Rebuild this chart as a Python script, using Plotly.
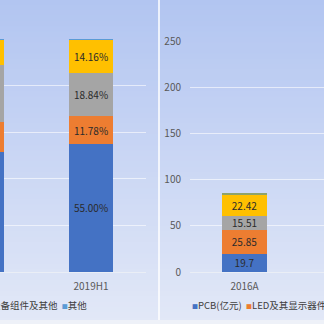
import plotly.graph_objects as go

# ---------------- data ----------------
left_categories = ["2018", "2019H1"]
left_series = ["PCB", "LED及其显示器件", "电子元器件", "设备组件及其他", "其他"]
left_pcb = [51.5, 55.00]
left_led = [12.9, 11.78]
left_elec = [24.5, 18.84]
left_equip = [10.7, 14.16]
left_other = [0.4, 0.22]

right_categories = ["2016A"]
right_series = ["PCB(亿元)", "LED及其显示器件(亿元)", "电子元器件(亿元)", "设备组件及其他(亿元)", "其他(亿元)"]
right_pcb = [19.7]
right_led = [25.85]
right_elec = [15.51]
right_equip = [22.42]
right_other = [1.5]

right_ticks = [0, 50, 100, 150, 200, 250]

left_colors = ["#4472C4", "#ED7D31", "#A5A5A5", "#FFC000", "#5B9BD5"]
right_colors = ["#4472C4", "#ED7D31", "#A5A5A5", "#FFC000", "#8EA36A"]

FONT = "Noto Sans CJK SC, Noto Sans, sans-serif"
W = H = 324

fig = go.Figure()

left_values = [left_pcb, left_led, left_elec, left_equip, left_other]
for i, (name, vals) in enumerate(zip(left_series, left_values)):
    show_text = i < 4
    fig.add_trace(go.Bar(
        x=left_categories, y=vals, name=name,
        marker=dict(color=left_colors[i], line=dict(width=0)),
        texttemplate="%{y:.2f}%" if show_text else "",
        textposition="inside", insidetextanchor="middle",
        textangle=0, constraintext="none",
        textfont=dict(family=FONT, size=10, color="#2b2b2b"),
        xaxis="x", yaxis="y", showlegend=False, hoverinfo="skip"))

right_values = [right_pcb, right_led, right_elec, right_equip, right_other]
for i, (name, vals) in enumerate(zip(right_series, right_values)):
    show_text = i < 4
    fig.add_trace(go.Bar(
        x=right_categories, y=vals, name=name,
        marker=dict(color=right_colors[i], line=dict(width=0)),
        texttemplate="%{y}" if show_text else "",
        textposition="inside", insidetextanchor="middle",
        textangle=0, constraintext="none",
        textfont=dict(family=FONT, size=10, color="#2b2b2b"),
        xaxis="x2", yaxis="y2", showlegend=False, hoverinfo="skip"))

# ------------- background gradient -------------
shapes = []
top = (178, 197, 241)
bot = (226, 232, 247)
N = 60
for k in range(N):
    t = k / (N - 1)
    c = tuple(int(round(top[j] + (bot[j] - top[j]) * t)) for j in range(3))
    y1 = 1 - k / N
    y0 = 1 - (k + 1) / N
    shapes.append(dict(type="rect", xref="paper", yref="paper",
                       x0=0, x1=1, y0=y0 - 0.002, y1=y1 + 0.002,
                       fillcolor="rgb(%d,%d,%d)" % c, line=dict(width=0),
                       layer="below"))
# separator between the two charts
shapes.append(dict(type="line", xref="paper", yref="paper",
                   x0=159 / W, x1=159 / W, y0=0, y1=1,
                   line=dict(color="rgba(255,255,255,0.75)", width=2), layer="below"))
# bottom border strip
shapes.append(dict(type="rect", xref="paper", yref="paper",
                   x0=0, x1=1, y0=0, y1=4 / H,
                   fillcolor="#EEF1F8", line=dict(width=0), layer="below"))


def legend_text(names, colors):
    parts = []
    for n, c in zip(names, colors):
        parts.append('<span style="color:%s;font-size:6px">■</span>%s' % (c, n))
    return "\u00a0\u00a0".join(parts)


annotations = [
    dict(xref="paper", yref="paper", x=89 / W, y=(H - 305) / H,
         xanchor="right", yanchor="middle", showarrow=False,
         text=legend_text(left_series, left_colors),
         font=dict(family=FONT, size=9.5, color="#404040")),
    dict(xref="paper", yref="paper", x=190 / W, y=(H - 305) / H,
         xanchor="left", yanchor="middle", showarrow=False,
         text=legend_text(right_series, right_colors),
         font=dict(family=FONT, size=9.5, color="#404040")),
]

grid_c = "rgba(255,255,255,0.6)"
axis_c = "rgba(235,238,245,0.95)"

fig.update_layout(
    width=W, height=H,
    margin=dict(l=0, r=0, t=0, b=0, autoexpand=False),
    paper_bgcolor="rgb(226,232,247)",
    plot_bgcolor="rgba(0,0,0,0)",
    barmode="stack", bargap=0.595,
    shapes=shapes, annotations=annotations,
    showlegend=False,
    xaxis=dict(domain=[0, 145.5 / W], range=[0.165, 1.5], type="category",
               anchor="y", showgrid=False, showline=True, linecolor=axis_c,
               ticks="", ticklabelstandoff=5, automargin=False,
               tickfont=dict(family=FONT, size=10, color="#595959"),
               fixedrange=True),
    yaxis=dict(domain=[52 / H, 285 / H], range=[0, 100], dtick=20,
               anchor="x", showgrid=True, gridcolor=grid_c, gridwidth=1,
               zeroline=False, showticklabels=False, ticks="", automargin=False),
    xaxis2=dict(domain=[190 / W, 1], range=[-0.5, 0.729], type="category",
                anchor="y2", showgrid=False, showline=True, linecolor=axis_c,
                ticks="", ticklabelstandoff=5, automargin=False,
                tickfont=dict(family=FONT, size=10, color="#595959")),
    yaxis2=dict(domain=[52 / H, 283 / H], range=[0, 250], tickvals=right_ticks,
                anchor="x2", showgrid=True, gridcolor=grid_c, gridwidth=1,
                zeroline=False, ticks="", ticklabelstandoff=8, automargin=False,
                tickfont=dict(family=FONT, size=10, color="#595959")),
)

fig.write_html("out.html")
